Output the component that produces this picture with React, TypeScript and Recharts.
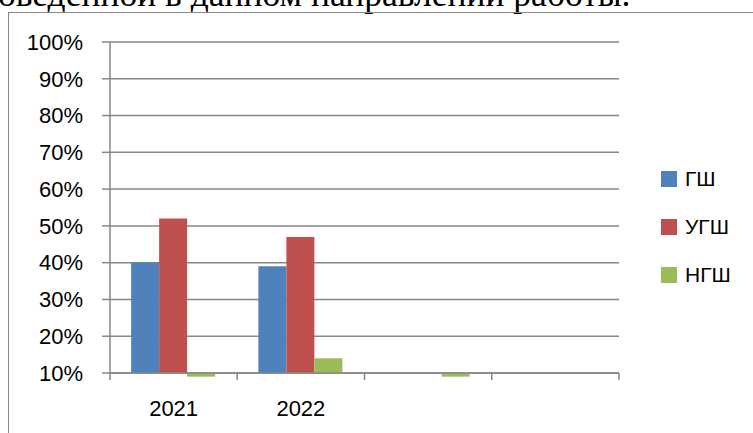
import { Bar, BarChart, CartesianGrid, Legend, XAxis, YAxis } from "recharts"

const categories = ["2021", "2022", "", ""]
const seriesNames = ["ГШ", "УГШ", "НГШ"]
const gshValues = [0.4, 0.39, null, null]
const ugshValues = [0.52, 0.47, null, null]
const ngshValues = [0.09, 0.14, 0.09, null]
const yTicks = [0.1, 0.2, 0.3, 0.4, 0.5, 0.6, 0.7, 0.8, 0.9, 1]

const data = categories.map((year, i) => ({
  year,
  gsh: gshValues[i],
  ugsh: ugshValues[i],
  ngsh: ngshValues[i],
}))

const AXIS = "#878787"
const FONT = "'Liberation Sans', Arial, sans-serif"
const CHART_W = 753
const CHART_H = 433
const MARGIN = { top: 42, right: 134, bottom: 20, left: 10 }
const BAND = (CHART_W - MARGIN.left - MARGIN.right - 100) / categories.length

function CategoryTick(props: any) {
  const { x, y, payload, index } = props
  const left = x - BAND / 2
  return (
    <g>
      <line x1={left} y1={y} x2={left} y2={y + 7} stroke={AXIS} strokeWidth={1.5} />
      {index === categories.length - 1 && (
        <line x1={x + BAND / 2} y1={y} x2={x + BAND / 2} y2={y + 7} stroke={AXIS} strokeWidth={1.5} />
      )}
      <text x={x} y={y + 43} textAnchor="middle" fontSize={22} fontFamily={FONT} fill="#000">
        {payload.value}
      </text>
    </g>
  )
}

function LegendBox({ payload }: any) {
  const items = [...(payload || [])].sort(
    (a: any, b: any) => seriesNames.indexOf(a.value) - seriesNames.indexOf(b.value)
  )
  return (
    <div style={{ fontFamily: FONT, fontSize: 21, color: "#000" }}>
      {items.map((p: any) => (
        <div key={p.value} style={{ height: 48, display: "flex", alignItems: "center", whiteSpace: "nowrap" }}>
          <span style={{ width: 16, height: 16, background: p.color, display: "inline-block", marginRight: 8 }} />
          {p.value}
        </div>
      ))}
    </div>
  )
}

export default function App() {
  return (
    <div style={{ position: "fixed", left: 0, top: 0, width: 753, height: 433, overflow: "hidden", background: "#fff" }}>
      <style>{`.recharts-bar g { clip-path: none !important; }`}</style>
      <div
        style={{
          position: "absolute",
          left: -2,
          top: -23,
          fontFamily: "'Liberation Serif', 'Times New Roman', serif",
          fontSize: 35.5,
          lineHeight: "35.5px",
          whiteSpace: "nowrap",
          color: "#000",
        }}
      >
        оведенной в данном направлении работы.
      </div>
      <div
        style={{
          position: "absolute",
          left: 8,
          top: 12,
          width: 900,
          height: 600,
          border: "1.5px solid #8a8a8a",
        }}
      />
      <div style={{ position: "absolute", left: 0, top: 0 }}>
        <BarChart width={CHART_W} height={CHART_H} data={data} margin={MARGIN} barGap={0} barCategoryGap="16.6%">
          <CartesianGrid vertical={false} stroke={AXIS} strokeWidth={1.5} />
          <XAxis
            dataKey="year"
            height={40}
            stroke={AXIS}
            strokeWidth={1.5}
            tickLine={false}
            tickSize={0}
            tickMargin={0}
            tick={<CategoryTick />}
            interval={0}
          />
          <YAxis
            width={100}
            domain={[0.1, 1]}
            ticks={yTicks}
            allowDataOverflow
            interval={0}
            stroke={AXIS}
            strokeWidth={1.5}
            tickSize={8}
            tickMargin={19}
            tick={{ fill: "#000", fontSize: 22, fontFamily: FONT }}
            tickFormatter={(v: number) => `${Math.round(v * 100)}%`}
          />
          <Legend
            layout="horizontal"
            align="center"
            verticalAlign="middle"
            wrapperStyle={{ left: 661, top: 155, width: 90 }}
            content={<LegendBox />}
          />
          <Bar dataKey="gsh" name="ГШ" fill="#4F81BD" isAnimationActive={false} />
          <Bar dataKey="ugsh" name="УГШ" fill="#C0504D" isAnimationActive={false} />
          <Bar dataKey="ngsh" name="НГШ" fill="#9BBB59" isAnimationActive={false} />
        </BarChart>
      </div>
    </div>
  )
}
